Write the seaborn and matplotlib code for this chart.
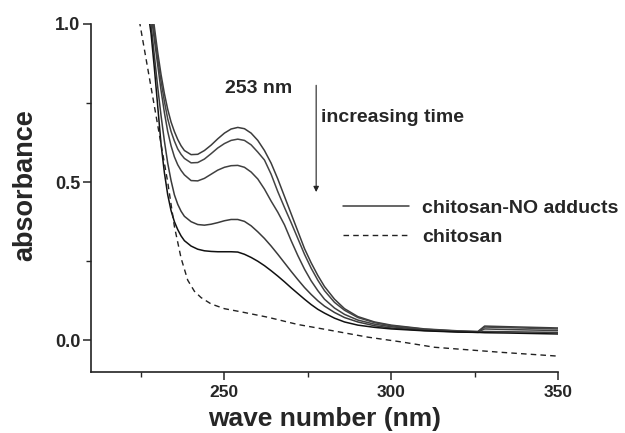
import matplotlib
matplotlib.use("Agg")
import matplotlib.pyplot as plt
import seaborn as sns
import pandas as pd
from matplotlib.ticker import AutoMinorLocator

# wavelength grid (nm) shared by the adduct spectra
wavelength = [226, 228, 229, 230, 231, 232, 233, 234, 235, 236, 237, 238,
              240, 242, 244, 246, 248, 250, 252, 254, 256, 258, 260, 262,
              264, 266, 268, 270, 272, 274, 276, 278, 280,
              283, 286, 290, 295, 300, 310, 320, 326, 328, 335, 350]

# chitosan-NO adducts, one spectrum per time point (absorbance)
adduct_t1 = [1.25, 1.07, 0.99, 0.91, 0.84, 0.78, 0.73, 0.69, 0.66, 0.635, 0.615, 0.60,
             0.587, 0.588, 0.60, 0.617, 0.637, 0.655, 0.668, 0.673, 0.669, 0.655, 0.632, 0.60,
             0.56, 0.51, 0.455, 0.40, 0.345, 0.29, 0.245, 0.205, 0.17,
             0.13, 0.10, 0.075, 0.058, 0.048, 0.036, 0.030, 0.028, 0.045, 0.043, 0.039]
adduct_t2 = [1.22, 1.05, 0.97, 0.89, 0.82, 0.755, 0.70, 0.66, 0.63, 0.605, 0.588, 0.575,
             0.561, 0.562, 0.573, 0.59, 0.608, 0.622, 0.632, 0.636, 0.632, 0.618, 0.595, 0.57,
             0.525, 0.47, 0.42, 0.372, 0.322, 0.272, 0.228, 0.19, 0.157,
             0.12, 0.095, 0.072, 0.056, 0.046, 0.035, 0.029, 0.027, 0.042, 0.040, 0.036]
adduct_t3 = [1.20, 1.03, 0.95, 0.87, 0.79, 0.72, 0.66, 0.615, 0.58, 0.555, 0.537, 0.523,
             0.505, 0.504, 0.512, 0.525, 0.538, 0.547, 0.552, 0.553, 0.547, 0.532, 0.51, 0.478,
             0.44, 0.405, 0.365, 0.315, 0.268, 0.225, 0.188, 0.157, 0.13,
             0.102, 0.082, 0.064, 0.051, 0.043, 0.033, 0.028, 0.026, 0.036, 0.034, 0.031]
adduct_t4 = [1.15, 1.0, 0.9, 0.8, 0.71, 0.63, 0.56, 0.505, 0.46, 0.43, 0.408, 0.392,
             0.375, 0.366, 0.364, 0.367, 0.372, 0.378, 0.382, 0.382, 0.376, 0.362, 0.343, 0.322,
             0.298, 0.272, 0.245, 0.218, 0.192, 0.167, 0.145, 0.125, 0.108,
             0.088, 0.072, 0.058, 0.046, 0.039, 0.031, 0.027, 0.025, 0.028, 0.027, 0.025]
adduct_t5 = [1.12, 0.97, 0.86, 0.74, 0.62, 0.53, 0.46, 0.41, 0.375, 0.35, 0.33, 0.315,
             0.298, 0.288, 0.283, 0.281, 0.28, 0.28, 0.28, 0.279, 0.272, 0.262, 0.25, 0.236,
             0.22, 0.203, 0.185, 0.166, 0.148, 0.13, 0.113, 0.098, 0.086,
             0.07, 0.058, 0.048, 0.041, 0.036, 0.030, 0.026, 0.025, 0.024, 0.023, 0.020]

# plain chitosan (dashed)
chitosan_wl = [224, 225, 227, 229, 231, 233, 235, 237, 239, 241, 243, 246, 250,
               255, 263, 272, 280, 293, 303, 313, 333, 350]
chitosan_abs = [1.04, 0.98, 0.86, 0.74, 0.62, 0.50, 0.36, 0.26, 0.19, 0.155, 0.135, 0.115, 0.10,
                0.09, 0.073, 0.05, 0.035, 0.01, -0.005, -0.022, -0.038, -0.05]

sns.set_style("ticks")
plt.rcParams["font.family"] = ["Liberation Sans", "DejaVu Sans"]
plt.rcParams["font.weight"] = "bold"

fig = plt.figure(figsize=(6.25, 4.33), dpi=100)
ax = fig.add_axes([0.1456, 0.141, 0.7472, 0.8036])

spectra = [adduct_t1, adduct_t2, adduct_t3, adduct_t4, adduct_t5]
colors = ["#3c3c3c", "#444444", "#404040", "#3a3a3a", "#111111"]
for i, (ys, c) in enumerate(zip(spectra, colors)):
    df = pd.DataFrame({"wl": wavelength, "abs": ys})
    sns.lineplot(data=df, x="wl", y="abs", ax=ax, color=c, lw=1.1,
                 label="chitosan-NO adducts" if i == 0 else None)

df_c = pd.DataFrame({"wl": chitosan_wl, "abs": chitosan_abs})
sns.lineplot(data=df_c, x="wl", y="abs", ax=ax, color="#222222", lw=1.0,
             linestyle=(0, (4, 3)), label="chitosan")

ax.set_xlim(210, 350)
ax.set_ylim(-0.1, 1.0)
ax.set_xticks([250, 300, 350])
ax.set_yticks([0.0, 0.5, 1.0])
ax.set_yticklabels(["0.0", "0.5", "1.0"])
ax.xaxis.set_minor_locator(AutoMinorLocator(2))
ax.yaxis.set_minor_locator(AutoMinorLocator(2))
ax.tick_params(which="major", length=6, width=1.1, labelsize=12.5)
ax.tick_params(axis="y", which="major", labelsize=13, pad=1.5)
ax.tick_params(axis="x", which="major", pad=3.5)
ax.tick_params(which="minor", length=3.5, width=1.0)
for s in ["left", "bottom"]:
    ax.spines[s].set_linewidth(1.2)
    ax.spines[s].set_color("#222222")
sns.despine(ax=ax)

ax.set_xlabel("wave number (nm)", fontsize=19, fontweight="bold", labelpad=5)
ax.set_ylabel("absorbance", fontsize=19.5, fontweight="bold")
ax.yaxis.set_label_coords(-0.114, 0.537)

ax.text(250.3, 0.797, "253 nm", fontsize=14, fontweight="bold", ha="left", va="center")
ax.annotate("", xy=(277.5, 0.46), xytext=(277.5, 0.815),
            arrowprops=dict(arrowstyle="-|>", lw=0.8, color="#222222", mutation_scale=8))
ax.text(278.9, 0.703, "increasing time", fontsize=14, fontweight="bold", ha="left", va="center")

leg = ax.legend(loc="upper left", bbox_to_anchor=(0.54, 0.497), frameon=False,
                fontsize=14, handlelength=3.4, handletextpad=0.65, labelspacing=0.6,
                borderpad=0, borderaxespad=0)
for t in leg.get_texts():
    t.set_fontweight("bold")

fig.savefig("out.png", dpi=100)
